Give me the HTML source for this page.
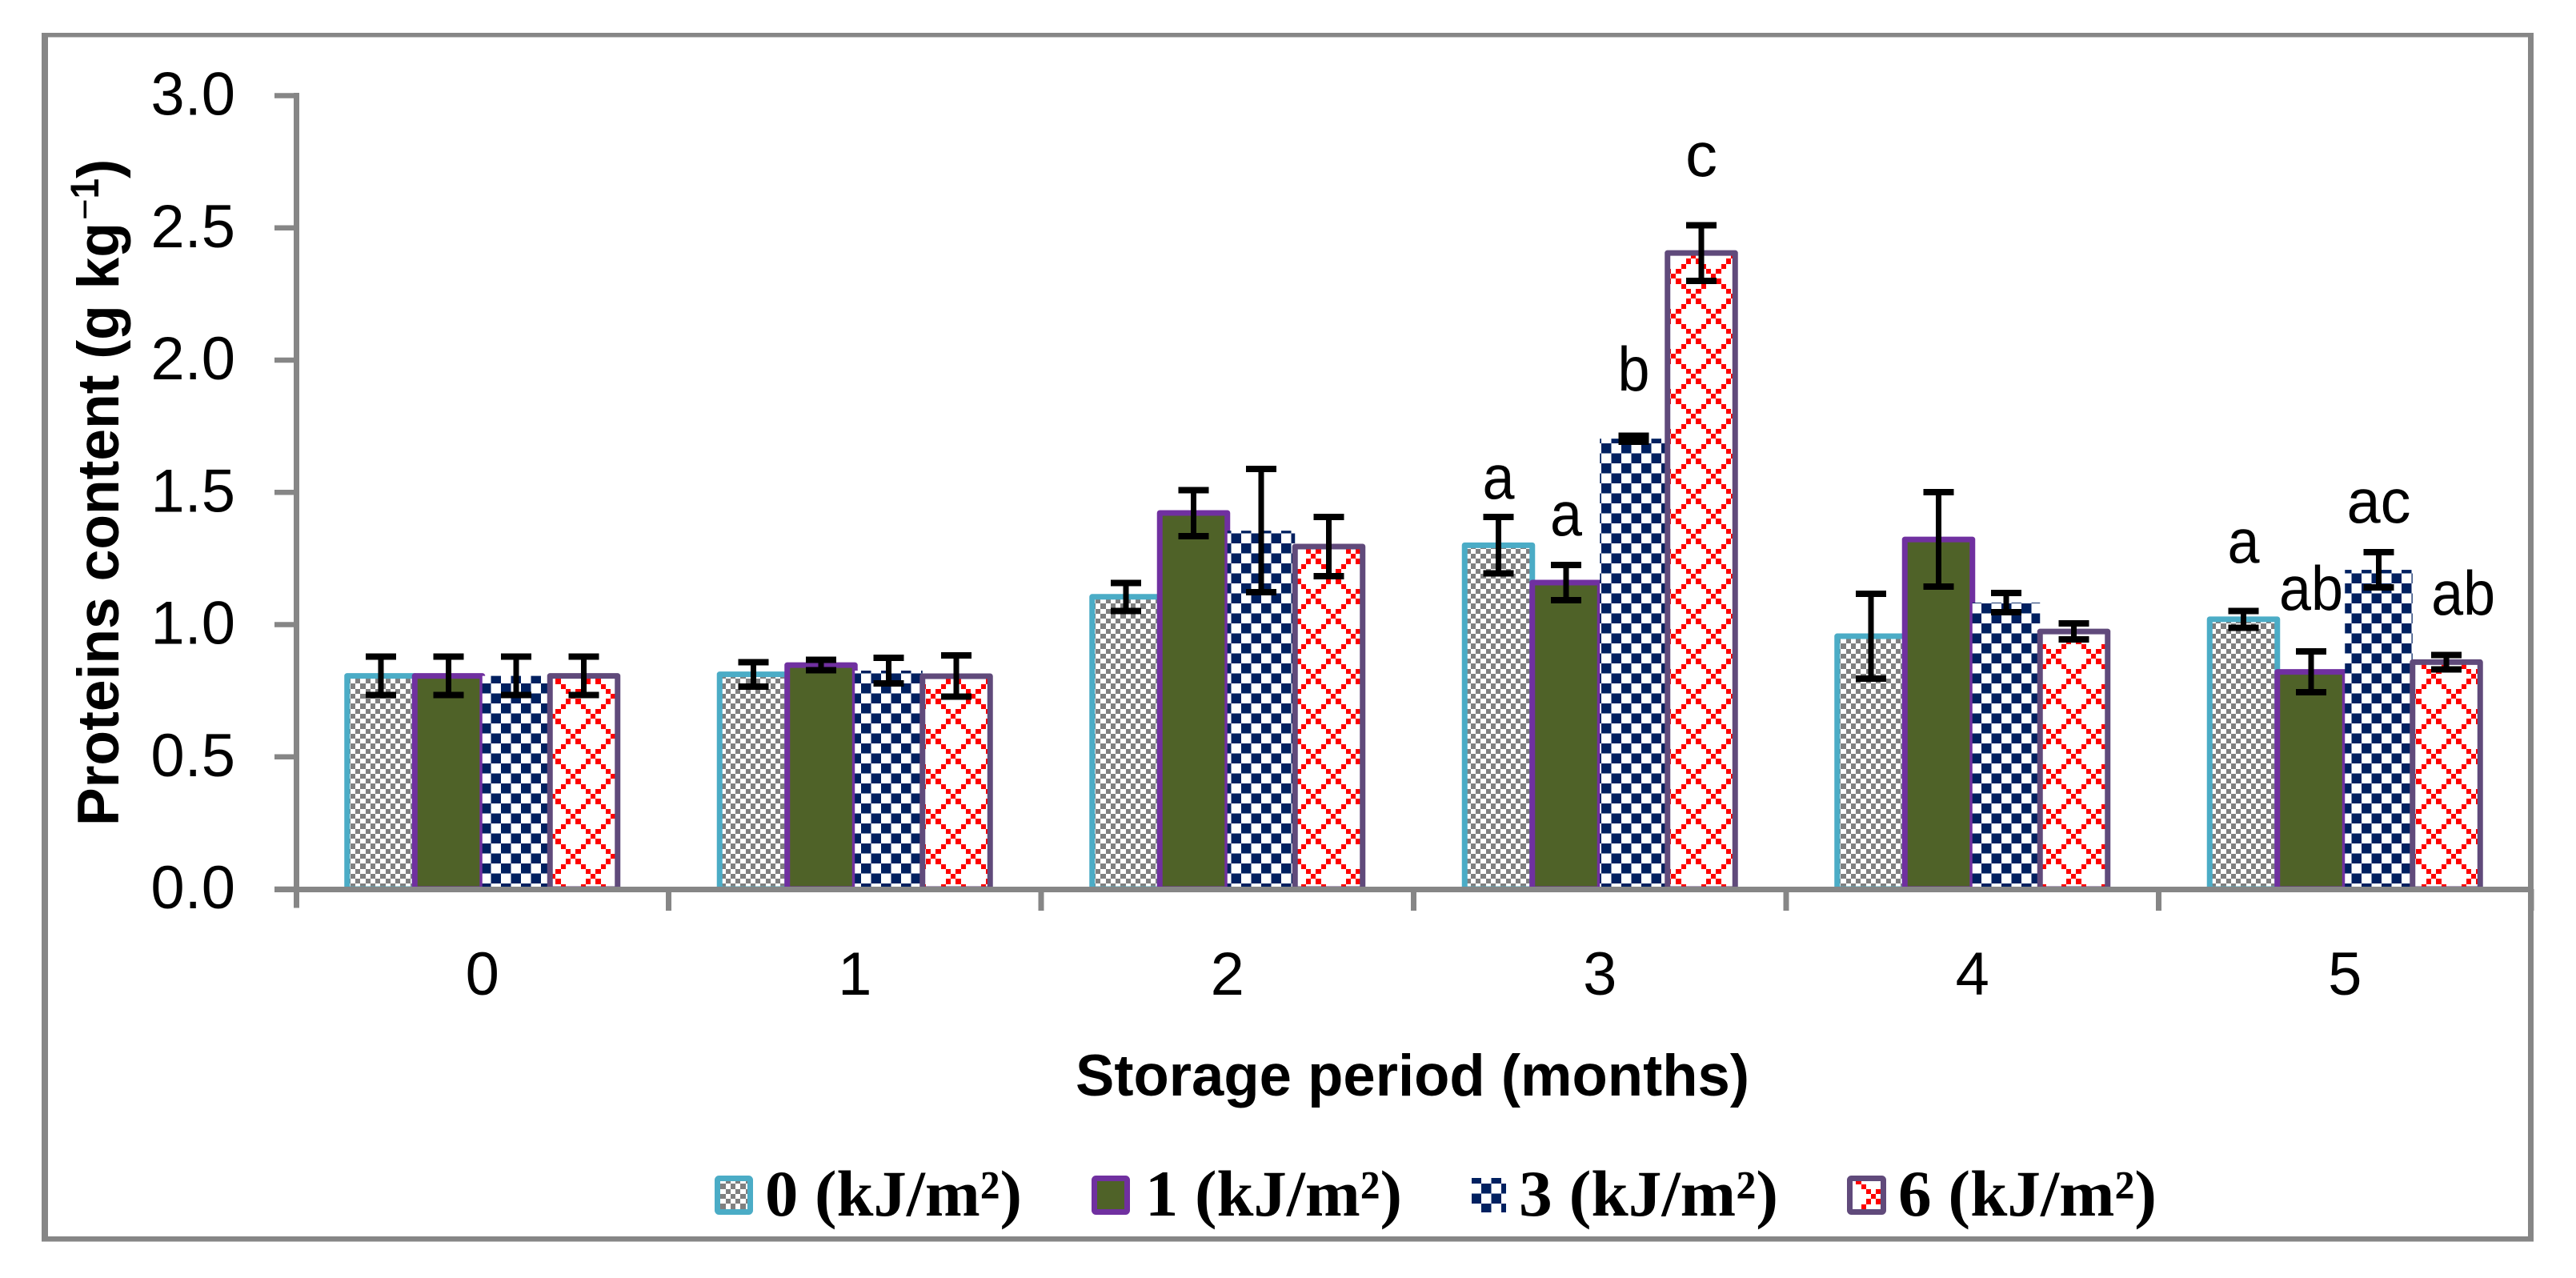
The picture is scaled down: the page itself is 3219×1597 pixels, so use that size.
<!DOCTYPE html>
<html lang="en">
<head>
<meta charset="utf-8">
<title>Proteins content by storage period</title>
<style>
html,body{margin:0;padding:0;background:#fff;width:3219px;height:1597px;overflow:hidden}
svg{display:block}
.tick{font-family:"Liberation Sans",sans-serif;font-size:76px;fill:#000}
.sig{font-family:"Liberation Sans",sans-serif;font-size:78px;fill:#000}
.title{font-family:"Liberation Sans",sans-serif;font-weight:700;font-size:73px;fill:#000}
.leg{font-family:"Liberation Serif",serif;font-weight:700;font-size:82px;fill:#000}
</style>
</head>
<body>
<svg id="chart" xmlns="http://www.w3.org/2000/svg" width="3219" height="1597" viewBox="0 0 3219 1597">
<defs>
<pattern id="pat-gray" patternUnits="userSpaceOnUse" x="19" y="23" width="25" height="25" shape-rendering="crispEdges">
<rect width="25" height="25" fill="#fff"/>
<path fill="#808080" d="M0 0h6v6H0zM13 0h6v6h-6zM6 6h7v7H6zM19 6h6v7h-6zM0 13h6v6H0zM13 13h6v6h-6zM6 19h7v6H6zM19 19h6v6h-6z"/>
</pattern>
<pattern id="pat-navy" patternUnits="userSpaceOnUse" x="1" y="4" width="25" height="25" shape-rendering="crispEdges">
<rect width="25" height="25" fill="#fff"/>
<path fill="#002060" d="M0 0h12.5v12.5H0zM12.5 12.5H25V25H12.5z"/>
</pattern>
<pattern id="pat-red" patternUnits="userSpaceOnUse" x="13" y="17" width="50" height="50" shape-rendering="crispEdges">
<rect width="50" height="50" fill="#fff"/>
<path fill="#f00" d="M0 0h6v6H0zM6 6h7v7H6zM13 13h6v6h-6zM19 19h6v6h-6zM25 25h6v6h-6zM31 31h7v7h-7zM38 38h6v6h-6zM44 44h6v6h-6zM44 6h-0zM44 6h6v7h-6zM38 13h6v6h-6zM31 19h7v6h-7zM19 31h6v7h-6zM13 38h6v6h-6zM6 44h7v6H6z"/>
</pattern>
</defs>

<rect x="0" y="0" width="3219" height="1597" fill="#fff"/>

<g id="marks"></g>
<g id="axes"></g>
<g id="errors"></g>
<g id="labels"></g>

<g fill="#868686">
<rect x="52" y="41" width="3114" height="5.5"/>
<rect x="52" y="1545" width="3114" height="6.5"/>
<rect x="52" y="41" width="8" height="1510"/>
<rect x="3159" y="41" width="7" height="1510"/>
</g>

<text class="title" x="1344" y="1369" textLength="842" lengthAdjust="spacingAndGlyphs">Storage period (months)</text>
<g>
<text class="title" transform="translate(148,1032) rotate(-90)" textLength="754" lengthAdjust="spacingAndGlyphs">Proteins content (g kg</text>
<text class="title" style="font-size:50px" transform="translate(123,275) rotate(-90)" textLength="52" lengthAdjust="spacingAndGlyphs"><tspan font-weight="400">−</tspan>1</text>
<text class="title" transform="translate(148,223) rotate(-90)">)</text>
</g>

<g>
<g>
<rect x="896.5" y="1472.5" width="41" height="42" rx="2" fill="url(#pat-gray)" stroke="#4BACC6" stroke-width="7"/>
<text class="leg" x="956" y="1519" textLength="321" lengthAdjust="spacingAndGlyphs">0 (kJ/m²)</text>
</g>
<g>
<rect x="1367.5" y="1472.5" width="41" height="42" rx="2" fill="#4F6228" stroke="#7030A0" stroke-width="7"/>
<text class="leg" x="1431" y="1519" textLength="321" lengthAdjust="spacingAndGlyphs">1 (kJ/m²)</text>
</g>
<g>
<rect x="1839" y="1472" width="43" height="43" fill="url(#pat-navy)"/>
<text class="leg" x="1898" y="1519" textLength="324" lengthAdjust="spacingAndGlyphs">3 (kJ/m²)</text>
</g>
<g>
<rect x="2311.5" y="1472.5" width="42" height="42" rx="2" fill="url(#pat-red)" stroke="#604A7B" stroke-width="7"/>
<text class="leg" x="2372" y="1519" textLength="323" lengthAdjust="spacingAndGlyphs">6 (kJ/m²)</text>
</g>
</g>
</svg>

<script>
// Data
const months = ['0', '1', '2', '3', '4', '5'];
const valueTicks = [0, 0.5, 1, 1.5, 2, 2.5, 3];

const dose0Values = [0.806, 0.812, 1.105, 1.30, 0.956, 1.02];
const dose1Values = [0.806, 0.847, 1.422, 1.159, 1.322, 0.821];
const dose3Values = [0.806, 0.826, 1.355, 1.703, 1.083, 1.207];
const dose6Values = [0.806, 0.805, 1.295, 2.405, 0.974, 0.858];

const dose0Errors = [0.073, 0.046, 0.053, 0.107, 0.16, 0.032];
const dose1Errors = [0.073, 0.02, 0.087, 0.067, 0.179, 0.077];
const dose3Errors = [0.073, 0.048, 0.233, 0.011, 0.036, 0.067];
const dose6Errors = [0.073, 0.078, 0.112, 0.105, 0.03, 0.027];

const sigLetters = ['a', 'a', 'b', 'c', 'a', 'ab', 'ac', 'ab'];
const sigMonths = [3, 3, 3, 3, 5, 5, 5, 5];
const sigSlots = [0, 1, 2, 3, 0, 1, 2, 3.25];
const sigLevels = [1.477, 1.337, 1.885, 2.696, 1.235, 1.056, 1.386, 1.038];

// Axis functions
const NS = 'http://www.w3.org/2000/svg';
const plotLeft = 370, plotRight = 3163, axisZero = 1111, pxPerUnit = 330.5, barWidth = 84.5;
const categoryWidth = (plotRight - plotLeft) / months.length;
function yScale(v) { return axisZero - v * pxPerUnit; }
function xCategory(i) { return plotLeft + (i + 0.5) * categoryWidth; }
function xBarCenter(i, slot) { return xCategory(i) + (slot - 1.5) * barWidth; }

function make(parent, tag, attrs) {
  const el = document.createElementNS(NS, tag);
  for (const k in attrs) el.setAttribute(k, attrs[k]);
  parent.appendChild(el);
  return el;
}

const marks = document.getElementById('marks');
const axes = document.getElementById('axes');
const errors = document.getElementById('errors');
const labels = document.getElementById('labels');

const seriesList = [
  { key: '0', values: dose0Values, errs: dose0Errors, fill: 'url(#pat-gray)', stroke: '#4BACC6' },
  { key: '1', values: dose1Values, errs: dose1Errors, fill: '#4F6228', stroke: '#7030A0' },
  { key: '3', values: dose3Values, errs: dose3Errors, fill: 'url(#pat-navy)', stroke: 'none' },
  { key: '6', values: dose6Values, errs: dose6Errors, fill: 'url(#pat-red)', stroke: '#604A7B' }
];

// Bars, drawn group by group so later bars overlap earlier borders
months.forEach(function (m, i) {
  seriesList.forEach(function (s, k) {
    const top = yScale(s.values[i]);
    const bar = make(marks, 'rect', {
      x: xBarCenter(i, k) - barWidth / 2,
      y: top,
      width: barWidth,
      height: axisZero - top,
      fill: s.fill,
      stroke: s.stroke,
      'stroke-width': 7,
      'stroke-linejoin': 'round'
    });
    
    
  });
});

// Error bars
months.forEach(function (m, i) {
  seriesList.forEach(function (s, k) {
    const cx = xBarCenter(i, k);
    const hi = yScale(s.values[i] + s.errs[i]);
    const lo = yScale(s.values[i] - s.errs[i]);
    const g = make(errors, 'g', { fill: '#000' });
    
    
    make(g, 'rect', { x: cx - 3.5, y: hi, width: 7, height: lo - hi, 'shape-rendering': 'crispEdges' });
    make(g, 'rect', { x: cx - 19, y: hi - 4, width: 38, height: 8, 'shape-rendering': 'crispEdges' });
    make(g, 'rect', { x: cx - 19, y: lo - 4, width: 38, height: 8, 'shape-rendering': 'crispEdges' });
  });
});

// Axes
const yAxisLine = make(axes, 'rect', { x: 367, y: yScale(3) - 3.5, width: 7, height: axisZero - yScale(3) + 27, fill: '#868686' });


const xAxisLine = make(axes, 'rect', { x: 343, y: 1108, width: plotRight - 343, height: 7, fill: '#868686' });



valueTicks.forEach(function (v) {
  const y = yScale(v);
  const t = make(axes, 'rect', { x: 343, y: y - 3.25, width: 27, height: 6.5, fill: '#868686' });
  
  
  const lab = make(labels, 'text', { x: 294, y: y + 24, 'text-anchor': 'end', class: 'tick' });
  lab.textContent = v.toFixed(1);
  
  
});

for (let i = 1; i <= months.length; i++) {
  const x = plotLeft + i * categoryWidth;
  const t = make(axes, 'rect', { x: x - 3.5, y: 1111, width: 7, height: 27, fill: '#868686' });
  
  
}

months.forEach(function (m, i) {
  const lab = make(labels, 'text', { x: xCategory(i), y: 1243, 'text-anchor': 'middle', class: 'tick' });
  lab.textContent = m;
  
  
});

// Significance letters
sigLetters.forEach(function (txt, n) {
  const cx = xBarCenter(sigMonths[n], sigSlots[n]);
  const w = 40 * txt.length;
  const lab = make(labels, 'text', {
    x: cx - w / 2,
    y: yScale(sigLevels[n]),
    class: 'sig',
    textLength: w,
    lengthAdjust: 'spacingAndGlyphs'
  });
  lab.textContent = txt;
  
  
});
</script>
</body>
</html>
